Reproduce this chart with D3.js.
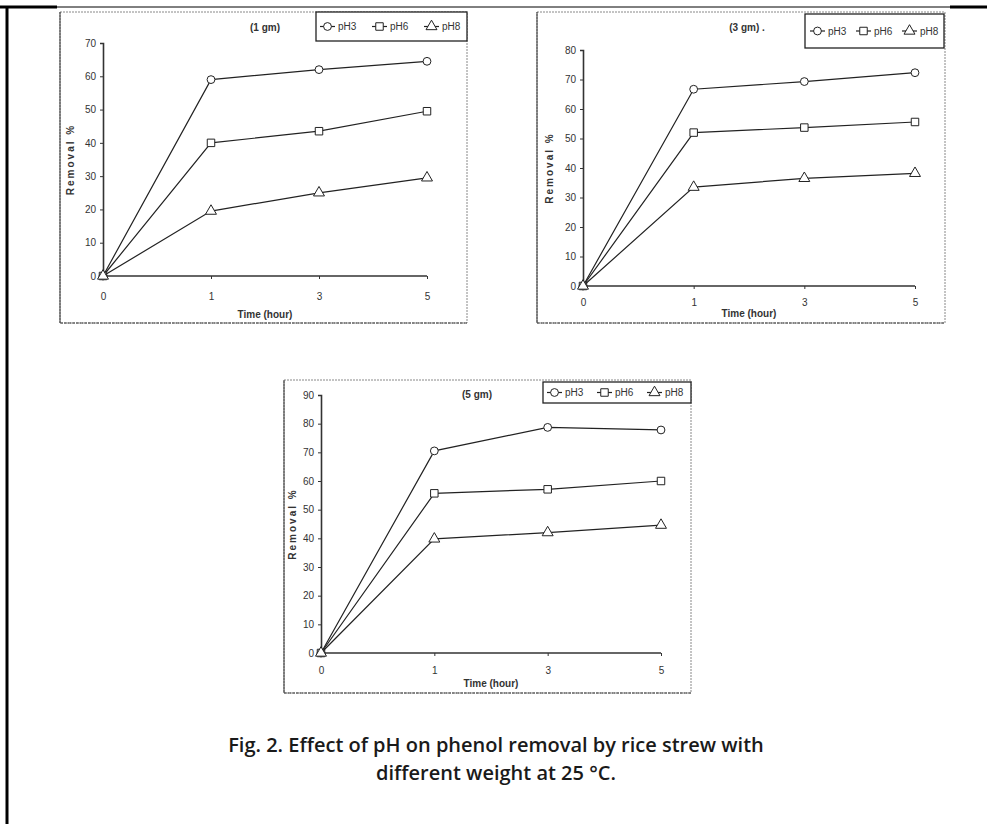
<!DOCTYPE html>
<html>
<head>
<meta charset="utf-8">
<script src="https://cdn.jsdelivr.net/npm/d3@7"></script>
<style>
  body { margin: 0; background: #fff; }
  svg { display: block; }
</style>
</head>
<body>
<div id="chart"></div>
<script>
// time categories on the x axis (evenly spaced, like the original Excel chart)
const timeLabels = ["0", "1", "3", "5"];
const seriesNames = ["pH3", "pH6", "pH8"];

// removal %
const removal1gm_pH3 = [0, 59, 62, 64.5];
const removal1gm_pH6 = [0, 40, 43.5, 49.5];
const removal1gm_pH8 = [0, 19.5, 25, 29.5];

const removal3gm_pH3 = [0, 66.7, 69.3, 72.3];
const removal3gm_pH6 = [0, 52, 53.7, 55.6];
const removal3gm_pH8 = [0, 33.5, 36.5, 38.2];

const removal5gm_pH3 = [0, 70.5, 78.7, 77.8];
const removal5gm_pH6 = [0, 55.7, 57.1, 60];
const removal5gm_pH8 = [0, 39.8, 42, 44.6];

const yTicks1gm = [0, 10, 20, 30, 40, 50, 60, 70];
const yTicks3gm = [0, 10, 20, 30, 40, 50, 60, 70, 80];
const yTicks5gm = [0, 10, 20, 30, 40, 50, 60, 70, 80, 90];

const captionLines = [
  "Fig. 2. Effect of pH on phenol removal by rice strew with",
  "different weight at 25 \u00B0C."
];

let w = 987, h = 824;
let chartFont = "'Liberation Sans Narrow', 'Liberation Sans', Arial, sans-serif";

let svg = d3.select("#chart").append("svg")
    .attr("width", w)
    .attr("height", h)
;

// page borders
svg.append("line").attr("x1", 6).attr("x2", w).attr("y1", 7).attr("y2", 7)
  .attr("stroke", "#000").attr("stroke-width", 1);
svg.append("line").attr("x1", 0).attr("x2", 57).attr("y1", 7).attr("y2", 7)
  .attr("stroke", "#000").attr("stroke-width", 3);
svg.append("line").attr("x1", 950).attr("x2", w).attr("y1", 7).attr("y2", 7)
  .attr("stroke", "#000").attr("stroke-width", 3);
svg.append("line").attr("x1", 7).attr("x2", 7).attr("y1", 6).attr("y2", h)
  .attr("stroke", "#000").attr("stroke-width", 3);

// layout of each panel (pixel boxes only, values come from the arrays above)
let panels = [
  {
    title: "(1 gm)",
    series: [removal1gm_pH3, removal1gm_pH6, removal1gm_pH8],
    yTicks: yTicks1gm,
    frame: {x0: 60, x1: 467, y0: 12, y1: 323},
    plot: {x0: 103, x1: 427, yTop: 43, yBottom: 276},
    titlePos: [265, 31],
    legend: {x0: 316, x1: 467, y0: 12, y1: 41, first: 320, step: 52},
    tickLabelY: 300, axisTitleY: 318, yLabelX: 74
  },
  {
    title: "(3 gm) .",
    series: [removal3gm_pH3, removal3gm_pH6, removal3gm_pH8],
    yTicks: yTicks3gm,
    frame: {x0: 537, x1: 945, y0: 12, y1: 323},
    plot: {x0: 583, x1: 915, yTop: 50, yBottom: 286},
    titlePos: [747, 31],
    legend: {x0: 805, x1: 944, y0: 14, y1: 48, first: 810, step: 46},
    tickLabelY: 306, axisTitleY: 317, yLabelX: 553
  },
  {
    title: "(5 gm)",
    series: [removal5gm_pH3, removal5gm_pH6, removal5gm_pH8],
    yTicks: yTicks5gm,
    frame: {x0: 284, x1: 691, y0: 380, y1: 693},
    plot: {x0: 321, x1: 661, yTop: 395, yBottom: 653},
    titlePos: [477, 398],
    legend: {x0: 543, x1: 691, y0: 382, y1: 403, first: 547, step: 50},
    tickLabelY: 674, axisTitleY: 687, yLabelX: 296
  }
];

let markerShapes = [d3.symbolCircle, d3.symbolSquare, d3.symbolTriangle];
let markerSizes = [48, 56, 52];

function drawMarker(g, i, x, y){
  g.append("path")
    .attr("d", d3.symbol().type(markerShapes[i]).size(markerSizes[i])())
    .attr("transform", "translate(" + x + "," + y + ")")
    .attr("fill", "#fff")
    .attr("stroke", "#222")
    .attr("stroke-width", 1);
}

panels.forEach(function(p){
  let g = svg.append("g").attr("class", "panel");
  let f = p.frame;

  // chart frame: dashed grey, solid dark on the left
  g.append("rect")
    .attr("x", f.x0).attr("y", f.y0)
    .attr("width", f.x1 - f.x0).attr("height", f.y1 - f.y0)
    .attr("fill", "none")
    .attr("stroke", "#888")
    .attr("stroke-dasharray", "2,1");
  g.append("line")
    .attr("x1", f.x0).attr("x2", f.x0).attr("y1", f.y0).attr("y2", f.y1)
    .attr("stroke", "#333");
  g.append("line")
    .attr("x1", f.x0).attr("x2", f.x1).attr("y1", f.y1).attr("y2", f.y1)
    .attr("stroke", "#444").attr("stroke-dasharray", "3,1");

  let xScale = d3.scalePoint().domain(timeLabels).range([p.plot.x0, p.plot.x1]);
  let yMax = p.yTicks[p.yTicks.length - 1];
  let yScale = d3.scaleLinear().domain([0, yMax]).range([p.plot.yBottom, p.plot.yTop]);

  // y axis
  let yAxis = d3.axisLeft(yScale).tickValues(p.yTicks).tickSize(3).tickPadding(4);
  let yAxisGroup = g.append("g")
    .attr("transform", "translate(" + p.plot.x0 + ",0)")
    .call(yAxis);
  // x axis
  let xAxis = d3.axisBottom(xScale).tickSize(3).tickPadding(6);
  let xAxisGroup = g.append("g")
    .attr("transform", "translate(0," + p.plot.yBottom + ")")
    .call(xAxis);
  xAxisGroup.selectAll("text").remove();
  xAxisGroup.selectAll(".tick").append("text")
    .attr("y", p.tickLabelY - p.plot.yBottom)
    .attr("text-anchor", "middle")
    .text(function(d){ return d; });

  [yAxisGroup, xAxisGroup].forEach(function(ax){
    ax.select(".domain").attr("stroke", "#333").attr("stroke-width", 1.6);
    ax.selectAll(".tick line").attr("stroke", "#333");
    ax.selectAll("text")
      .attr("fill", "#333")
      .attr("font-family", chartFont)
      .attr("font-size", "10px");
  });
  xAxisGroup.select(".domain").attr("d", "M" + p.plot.x0 + ",0H" + p.plot.x1);

  // axis titles
  g.append("text")
    .attr("x", (p.plot.x0 + p.plot.x1) / 2)
    .attr("y", p.axisTitleY)
    .attr("text-anchor", "middle")
    .attr("font-family", chartFont)
    .attr("font-size", "10px")
    .attr("font-weight", "bold")
    .attr("fill", "#333")
    .text("Time (hour)");
  g.append("text")
    .attr("transform", "translate(" + p.yLabelX + "," + (p.plot.yTop + p.plot.yBottom) / 2 + ") rotate(-90)")
    .attr("text-anchor", "middle")
    .attr("font-family", chartFont)
    .attr("font-size", "10px")
    .attr("font-weight", "bold")
    .attr("letter-spacing", "2px")
    .attr("fill", "#333")
    .text("Removal %");

  // title
  g.append("text")
    .attr("x", p.titlePos[0]).attr("y", p.titlePos[1])
    .attr("text-anchor", "middle")
    .attr("font-family", chartFont)
    .attr("font-size", "10px")
    .attr("font-weight", "bold")
    .attr("fill", "#333")
    .text(p.title);

  // lines + markers
  let line = d3.line()
    .x(function(d, i){ return xScale(timeLabels[i]); })
    .y(function(d){ return yScale(d); });

  p.series.forEach(function(values, si){
    g.append("path")
      .datum(values)
      .attr("d", line)
      .attr("fill", "none")
      .attr("stroke", "#222")
      .attr("stroke-width", 1.2);
    values.forEach(function(v, i){
      drawMarker(g, si, xScale(timeLabels[i]), yScale(v));
    });
  });

  // legend
  let L = p.legend;
  g.append("rect")
    .attr("x", L.x0).attr("y", L.y0)
    .attr("width", L.x1 - L.x0).attr("height", L.y1 - L.y0)
    .attr("fill", "#fff")
    .attr("stroke", "#222")
    .attr("stroke-width", 1.3);
  let ly = (L.y0 + L.y1) / 2;
  seriesNames.forEach(function(name, si){
    let lx = L.first + si * L.step;
    g.append("line")
      .attr("x1", lx).attr("x2", lx + 15)
      .attr("y1", ly).attr("y2", ly)
      .attr("stroke", "#222").attr("stroke-width", 1.2);
    drawMarker(g, si, lx + 7.5, ly);
    g.append("text")
      .attr("x", lx + 18).attr("y", ly + 3.5)
      .attr("font-family", chartFont)
      .attr("font-size", "10px")
      .attr("fill", "#333")
      .text(name);
  });
});

// caption
svg.append("g").selectAll("text")
  .data(captionLines)
  .join("text")
    .attr("x", 496)
    .attr("y", function(d, i){ return 752 + i * 28; })
    .attr("text-anchor", "middle")
    .attr("font-family", "'Open Sans', Lato, sans-serif")
    .attr("font-size", "20px")
    .attr("font-weight", 600)
    .attr("fill", "#1a1a1a")
    .text(function(d){ return d; });
</script>
</body>
</html>
